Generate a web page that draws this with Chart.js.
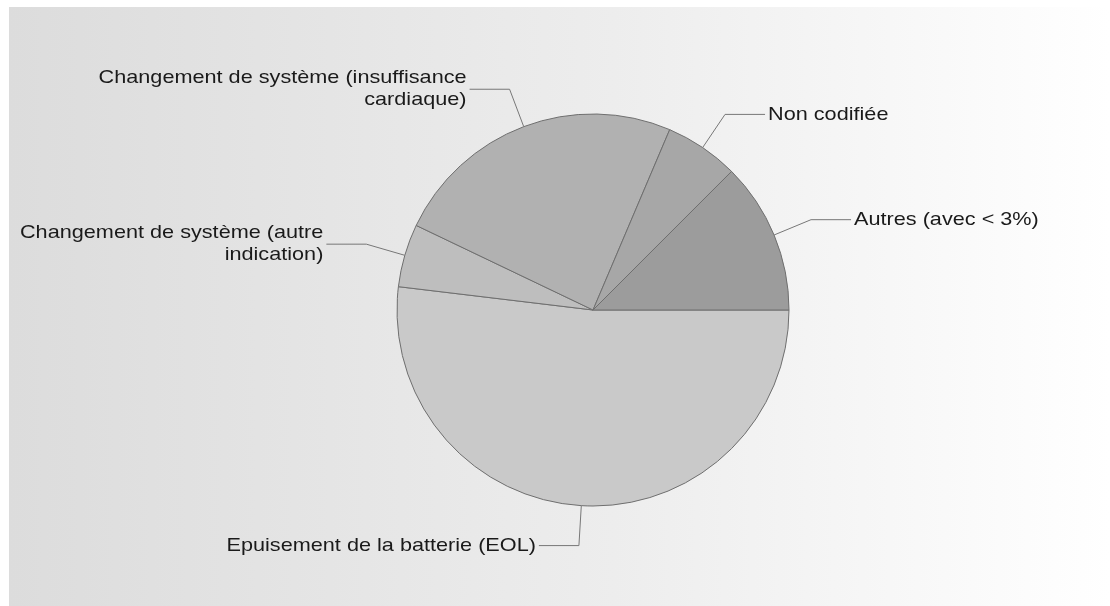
<!DOCTYPE html>
<html>
<head>
<meta charset="utf-8">
<script src="https://cdn.jsdelivr.net/npm/chart.js@4.4.1/dist/chart.umd.min.js"></script>
<style>
  html, body { margin: 0; padding: 0; background: #fff; }
  #wrap { position: relative; width: 1110px; height: 606px; }
  #bg {
    position: absolute; left: 9px; top: 7px; right: 0; bottom: 0;
    background: linear-gradient(to right, #dcdcdc 0%, #ededed 55%, #ffffff 100%);
  }
  canvas { position: absolute; left: 0; top: 0; }
</style>
</head>
<body>
<div id="wrap">
  <div id="bg"></div>
  <canvas id="chartPie" width="1110" height="606"></canvas>
</div>
<script>
// ── DATOS ──
const labels = [
    ["Epuisement de la batterie (EOL)"],
    ["Changement de système (autre", "indication)"],
    ["Changement de système (insuffisance", "cardiaque)"],
    ["Non codifiée"],
    ["Autres (avec < 3%)"]
];
const valores = [51.9, 5.2, 24.3, 6.1, 12.5];
const colores = ["#c9c9c9", "#bebebe", "#b1b1b1", "#a7a7a7", "#9c9c9c"];

// etiquetas con línea guía
const etiquetas = {
    id: "etiquetas",
    afterDatasetsDraw(chart) {
        const ctx = chart.ctx;
        const meta = chart.getDatasetMeta(0);
        const estirar = 1.14; // el texto original es algo más ancho que Arial
        ctx.save();
        ctx.font = "19px 'Liberation Sans', Arial, sans-serif";
        ctx.textBaseline = "middle";
        meta.data.forEach((arc, i) => {
            const { x, y, startAngle, endAngle, outerRadius } = arc.getProps(["x", "y", "startAngle", "endAngle", "outerRadius"], true);
            const mid = (startAngle + endAngle) / 2;
            const cos = Math.cos(mid), sin = Math.sin(mid);
            const x0 = x + cos * outerRadius, y0 = y + sin * outerRadius;
            const x1 = x + cos * (outerRadius + 40), y1 = y + sin * (outerRadius + 40);
            const dir = cos >= 0 ? 1 : -1;
            const x2 = x1 + dir * 40;
            ctx.strokeStyle = "#777";
            ctx.lineWidth = 1;
            ctx.beginPath();
            ctx.moveTo(x0, y0);
            ctx.lineTo(x1, y1);
            ctx.lineTo(x2, y1);
            ctx.stroke();
            const lines = labels[i];
            const lh = 22;
            ctx.fillStyle = "#1a1a1a";
            ctx.textAlign = dir > 0 ? "left" : "right";
            lines.forEach((t, k) => {
                const ty = y1 + (k - (lines.length - 1) / 2) * lh;
                ctx.save();
                ctx.translate(x2 + dir * 3, ty);
                ctx.scale(estirar, 1);
                ctx.fillText(t, 0, 0);
                ctx.restore();
            });
        });
        ctx.restore();
    }
};

new Chart(document.getElementById("chartPie"), {
    type: "pie",
    data: {
        labels: labels.map(l => l.join(" ")),
        datasets: [{
            data: valores,
            backgroundColor: colores,
            borderColor: "#6e6e6e",
            borderWidth: 1,
            hoverOffset: 0
        }]
    },
    options: {
        responsive: false,
        animation: false,
        rotation: 90,
        radius: 196,
        layout: { padding: { left: 397, right: 321, top: 114, bottom: 100 } },
        plugins: { legend: { display: false }, tooltip: { enabled: false } },
        events: []
    },
    plugins: [etiquetas]
});
</script>
</body>
</html>
